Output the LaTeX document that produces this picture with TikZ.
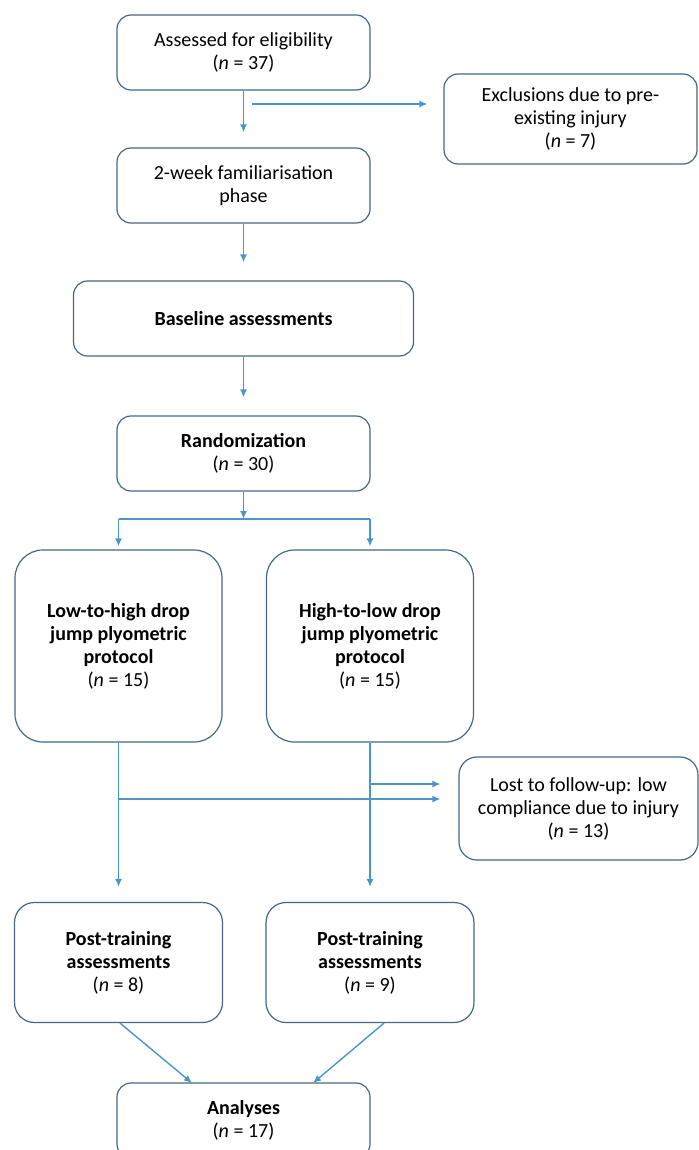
\documentclass[tikz,border=0pt]{standalone}
\usepackage{fontspec}
\setmainfont{Carlito}
\usepackage{xcolor}
\usepackage{tikz}
\usetikzlibrary{calc}
\usetikzlibrary{arrows.meta}

\definecolor{boxline}{RGB}{70,105,130}
\definecolor{flowblue}{RGB}{75,150,200}

\begin{document}
\begin{tikzpicture}[x=0.5pt,y=-0.5pt]%%study flow
                \tikzstyle{stage} = [draw=boxline, line width=0.6pt, rounded corners=7pt, align=center, inner sep=0pt, font=\fontsize{10}{11.5}\selectfont, minimum width=126.5pt, minimum height=37.5pt]
                \tikzstyle{arm}   = [stage, rounded corners=14pt, minimum width=103.5pt, minimum height=96pt]
                \tikzstyle{post}  = [stage, rounded corners=10pt, minimum width=104pt, minimum height=60pt]
                \tikzstyle{flow}  = [draw=flowblue, line width=0.7pt, -{Latex[length=4pt,width=3.5pt]}]
                \useasboundingbox (0,0) rectangle (699,1150);
                \clip (0,0) rectangle (699,1150);

                \node [stage](assess) at (243.5,52.5) {Assessed for eligibility\\(\textit{n} = 37)};
                \node [stage, minimum height=45pt](excl) at (570.5,119) {Exclusions due to pre-\\existing injury\\(\textit{n} = 7)};
                \node [stage](famil) at (243.5,185.5) {2-week familiarisation\\phase};
                \node [stage, minimum width=170pt](base) at (243.5,318.5) {\textbf{Baseline assessments}};
                \node [stage](rand) at (243.5,453.5) {\textbf{Randomization}\\(\textit{n} = 30)};
                \node [arm](low) at (118.5,646) {\textbf{Low-to-high drop}\\\textbf{jump plyometric}\\\textbf{protocol}\\(\textit{n} = 15)};
                \node [arm](high) at (370,646) {\textbf{High-to-low drop}\\\textbf{jump plyometric}\\\textbf{protocol}\\(\textit{n} = 15)};
                \node [stage, rounded corners=9pt, minimum width=119.5pt, minimum height=51.5pt](lost) at (578.5,808.5) {Lost to follow-up: low\\compliance due to injury\\(\textit{n} = 13)};
                \node [post](post1) at (118.5,962.5) {\textbf{Post-training}\\\textbf{assessments}\\(\textit{n} = 8)};
                \node [post](post2) at (370,962.5) {\textbf{Post-training}\\\textbf{assessments}\\(\textit{n} = 9)};
                \node [stage](anal) at (243.5,1120.5) {\textbf{Analyses}\\(\textit{n} = 17)};

                \draw [flow, shorten >=7.5pt] (assess) -- (famil);
                \coordinate (ex) at (252,104);
                \draw [flow, line width=1.2pt, shorten >=8pt] (ex) -- (ex -| excl.west);
                \draw [flow, shorten >=9pt] (famil) -- (base);
                \draw [flow, shorten >=9pt] (base) -- (rand);

                % split into the two arms
                \coordinate (split) at (243.5,519);
                \draw [flow] (rand) -- (split);
                \draw [draw=flowblue, line width=0.7pt] (split -| low) -- (split -| high);
                \foreach \g/\p in {low/post1,high/post2}{
                        \draw [flow, shorten >=1.5pt] (split -| \g) -- (\g);
                        \draw [flow, shorten >=7.5pt] (\g) -- (\p);
                }

                \coordinate (lo) at (118.5,799);
                \coordinate (hi) at (370,784);
                \draw [flow, shorten >=9pt] (lo) -- (lo -| lost.west);
                \draw [flow, shorten >=9pt] (hi) -- (hi -| lost.west);

                \coordinate (a1) at (192,1083);
                \coordinate (a2) at (313,1083);
                \draw [flow] ($(post1.south)+(1.5,0)$) -- (a1);
                \draw [flow] ($(post2.south)+(14,0)$) -- (a2);
\end{tikzpicture}
\end{document}
